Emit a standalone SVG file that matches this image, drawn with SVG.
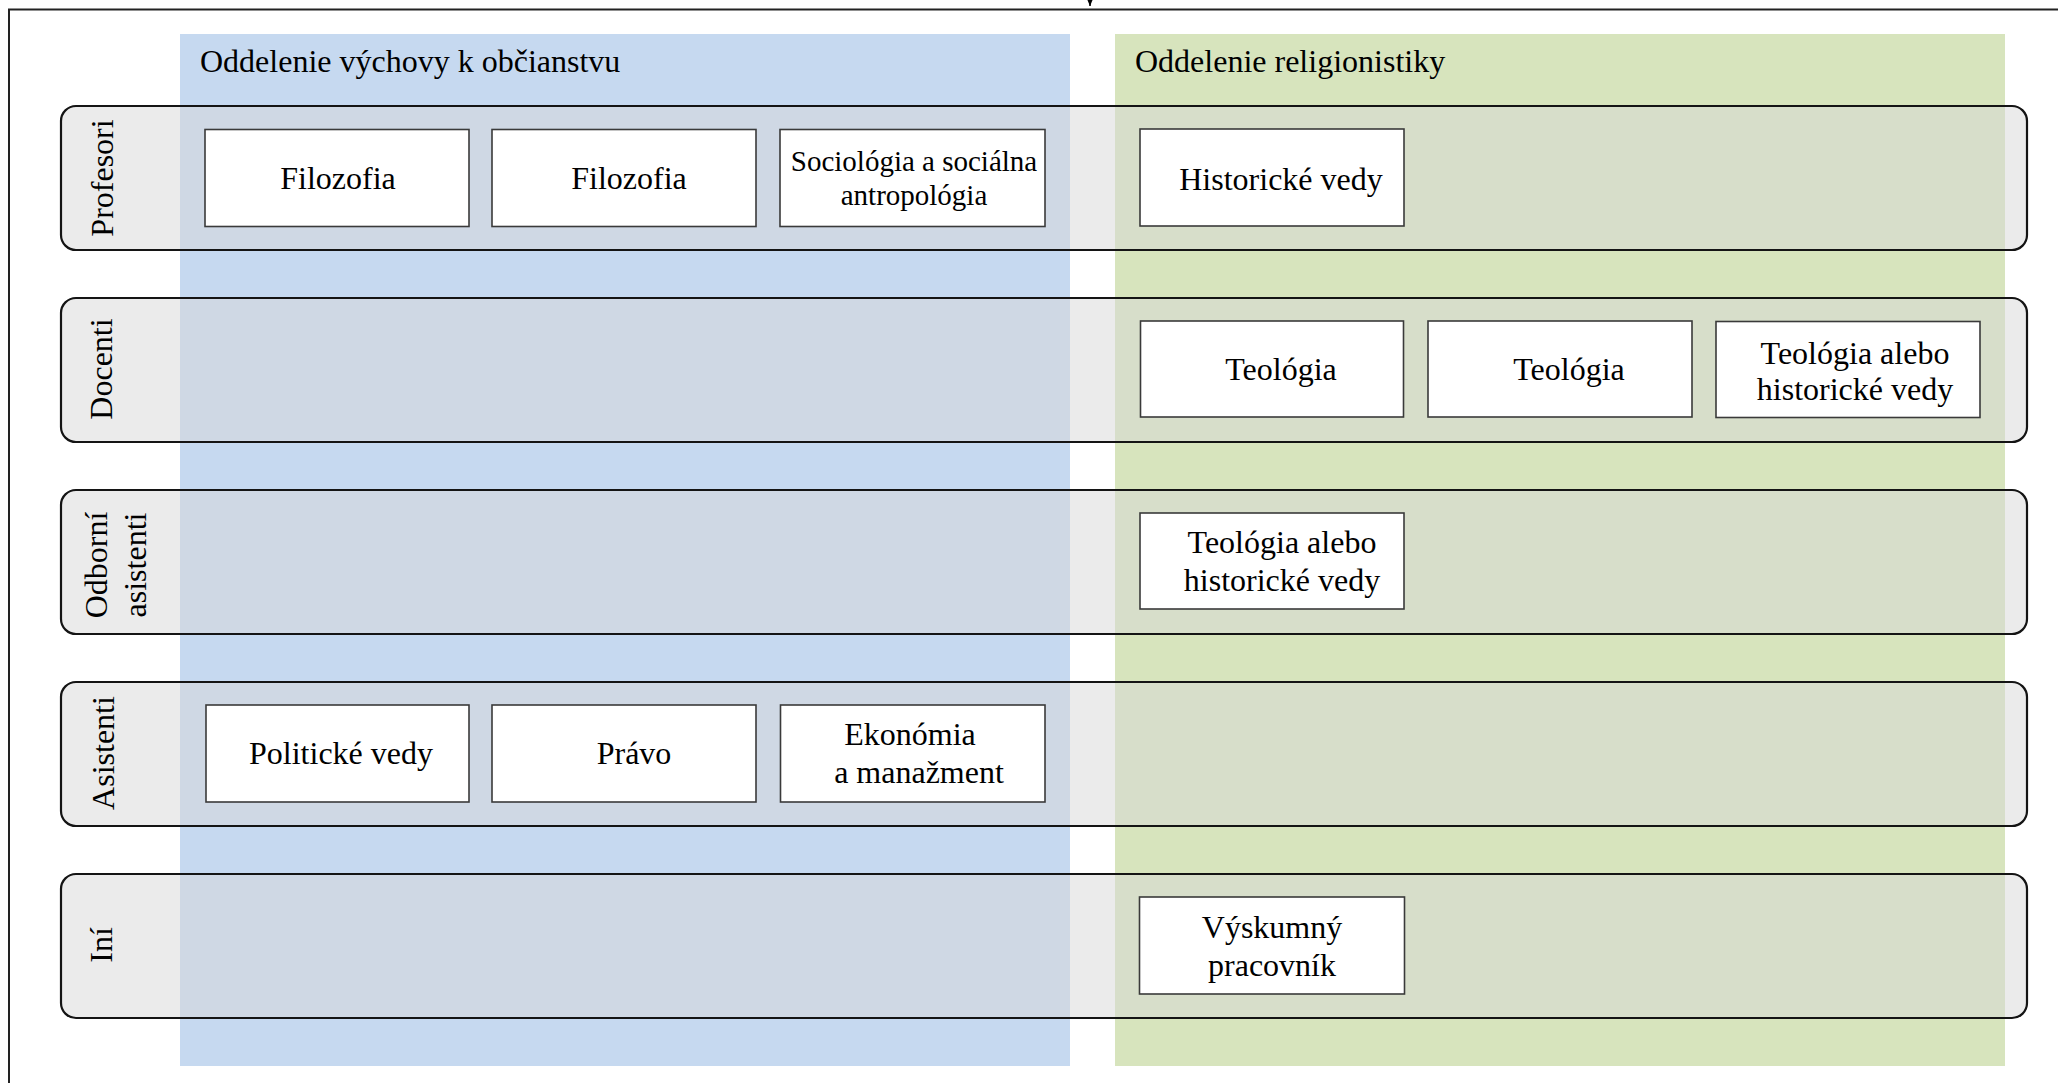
<svg xmlns="http://www.w3.org/2000/svg" width="2058" height="1083" viewBox="0 0 2058 1083">
<style>
  text { font-family: "Liberation Serif", "Times New Roman", serif; font-size: 32px; fill: #000; }
  .box rect { fill: #ffffff; stroke: #3a3a3a; stroke-width: 1.6; }
  .box text { text-anchor: middle; }
  .small { font-size: 29px; }
  .lane rect { fill: rgb(216,216,216); fill-opacity: 0.5; stroke: #141414; stroke-width: 2.2; }
  .lane text { text-anchor: middle; }
  .frame { fill: none; stroke: #222; stroke-width: 2; }
  .conn { fill: none; stroke: #000; stroke-width: 1.5; }
</style>
<defs>
  <marker id="arrow" viewBox="0 0 7 6" refX="7" refY="3" markerWidth="7" markerHeight="6" markerUnits="userSpaceOnUse" orient="auto">
    <path d="M0,0 L7,3 L0,6 z" fill="#000"/>
  </marker>
</defs>
<rect width="2058" height="1083" fill="#ffffff"/>
<path class="frame" d="M9,1090 V9.5 H2070"/>

<g id="col-vychova">
  <rect x="180" y="34" width="890" height="1032" fill="#c6d9f0"/>
  <text x="200" y="72">Oddelenie výchovy k občianstvu</text>
</g>
<g id="col-religionistika">
  <rect x="1115" y="34" width="890" height="1032" fill="#d7e4bd"/>
  <text x="1135" y="72">Oddelenie religionistiky</text>
</g>

<g id="lane-profesori" class="lane">
  <rect x="61" y="106" width="1966" height="144" rx="15" ry="15"/>
  <text transform="translate(113,178) rotate(-90)">Profesori</text>
</g>
<g id="lane-docenti" class="lane">
  <rect x="61" y="298" width="1966" height="144" rx="15" ry="15"/>
  <text transform="translate(112,369) rotate(-90)">Docenti</text>
</g>
<g id="lane-odborni" class="lane">
  <rect x="61" y="490" width="1966" height="144" rx="15" ry="15"/>
  <text transform="translate(107,565) rotate(-90)">Odborní</text>
  <text transform="translate(146,565) rotate(-90)">asistenti</text>
</g>
<g id="lane-asistenti" class="lane">
  <rect x="61" y="682" width="1966" height="144" rx="15" ry="15"/>
  <text transform="translate(114,753) rotate(-90)">Asistenti</text>
</g>
<g id="lane-ini" class="lane">
  <rect x="61" y="874" width="1966" height="144" rx="15" ry="15"/>
  <text transform="translate(112,945) rotate(-90)">Iní</text>
</g>

<g id="n-filozofia-1" class="box">
  <rect x="205" y="129.5" width="264" height="97"/>
  <text x="338" y="189">Filozofia</text>
</g>
<g id="n-filozofia-2" class="box">
  <rect x="492" y="129.5" width="264" height="97"/>
  <text x="629" y="189">Filozofia</text>
</g>
<g id="n-sociologia" class="box">
  <rect x="780" y="129.5" width="265" height="97"/>
  <text class="small" x="914" y="171">Sociológia a sociálna</text>
  <text class="small" x="914" y="205">antropológia</text>
</g>
<g id="n-historicke" class="box">
  <rect x="1140" y="129" width="264" height="97"/>
  <text x="1281" y="190">Historické vedy</text>
</g>

<g id="n-teologia-1" class="box">
  <rect x="1140.5" y="321" width="263" height="96"/>
  <text x="1281" y="380">Teológia</text>
</g>
<g id="n-teologia-2" class="box">
  <rect x="1428" y="321" width="264" height="96"/>
  <text x="1569" y="380">Teológia</text>
</g>
<g id="n-teologia-hist-doc" class="box">
  <rect x="1716" y="321.5" width="264" height="96"/>
  <text x="1855" y="364">Teológia alebo</text>
  <text x="1855" y="400">historické vedy</text>
</g>

<g id="n-teologia-hist-oa" class="box">
  <rect x="1140" y="513" width="264" height="96"/>
  <text x="1282" y="553">Teológia alebo</text>
  <text x="1282" y="591">historické vedy</text>
</g>

<g id="n-politicke" class="box">
  <rect x="206" y="705" width="263" height="97"/>
  <text x="341" y="764">Politické vedy</text>
</g>
<g id="n-pravo" class="box">
  <rect x="492" y="705" width="264" height="97"/>
  <text x="634" y="764">Právo</text>
</g>
<g id="n-ekonomia" class="box">
  <rect x="780.5" y="705" width="264.5" height="97"/>
  <text x="910" y="745">Ekonómia</text>
  <text x="919" y="783">a manažment</text>
</g>

<g id="n-vyskumny" class="box">
  <rect x="1139.5" y="897" width="265" height="97"/>
  <text x="1272" y="938">Výskumný</text>
  <text x="1272" y="976">pracovník</text>
</g>

<g id="connectors">
  <path class="conn" d="M1090,-20 V6" marker-end="url(#arrow)"/>
</g>
</svg>
